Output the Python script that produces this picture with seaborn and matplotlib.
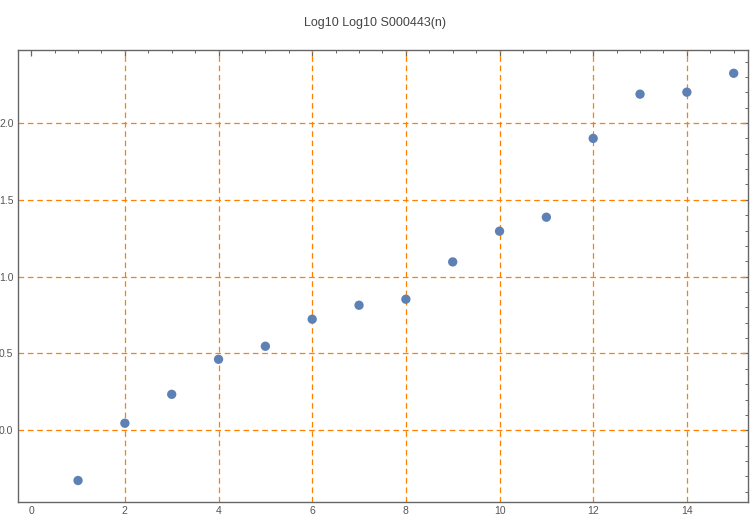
# Log10 Log10 S000443(n) scatter, Mathematica-like look

import numpy as np
import pandas as pd
import matplotlib
matplotlib.use('Agg')
import matplotlib.pyplot as plt
import seaborn as sns
from matplotlib.ticker import MultipleLocator

# data
n_values = [1, 2, 3, 4, 5, 6, 7, 8, 9, 10, 11, 12, 13, 14, 15]
loglog_values = [-0.327, 0.046, 0.234, 0.462, 0.547, 0.723, 0.814, 0.853,
                 1.096, 1.296, 1.387, 1.900, 2.188, 2.201, 2.324]
x_ticks = [0, 2, 4, 6, 8, 10, 12, 14]
y_ticks = [0.0, 0.5, 1.0, 1.5, 2.0]
title_text = 'Log10 Log10 S000443(n)'

df = pd.DataFrame({'n': n_values, 'value': loglog_values})

sns.set_style('white')
plt.rcParams['font.family'] = ['Liberation Sans', 'DejaVu Sans']

fig = plt.figure(figsize=(7.5, 5.2), dpi=100)
ax = fig.add_axes([0.0235, 0.034, 0.9735, 0.870])

# grid lines
for xv in x_ticks[1:]:
    ax.axvline(xv, color='#FF8000', lw=0.9, ls=(0, (4.5, 3)), zorder=1)
for yv in y_ticks:
    ax.axhline(yv, color='#FF8000', lw=0.9, ls=(0, (4.5, 3)), zorder=1)

sns.scatterplot(data=df, x='n', y='value', ax=ax, color='#5E81B5',
                s=45, edgecolor='none', zorder=3)

ax.set_xlim(-0.29, 15.30)
ax.set_ylim(-0.469, 2.476)
ax.set_xticks(x_ticks)
ax.set_yticks(y_ticks)
ax.set_yticklabels([f'{v:.1f}' for v in y_ticks])
ax.xaxis.set_minor_locator(MultipleLocator(0.5))
ax.yaxis.set_minor_locator(MultipleLocator(0.1))
ax.set_xlabel('')
ax.set_ylabel('')

ax.tick_params(which='both', direction='in', top=True, right=True,
               color='#666666', labelcolor='#555555', labelsize=7.5,
               labeltop=False, labelright=False)
ax.tick_params(which='major', length=4, width=0.9, pad=3)
ax.tick_params(which='minor', length=2.5, width=0.7)

for side in ['left', 'right', 'top', 'bottom']:
    ax.spines[side].set_visible(True)
    ax.spines[side].set_color('#666666')
    ax.spines[side].set_linewidth(1.0)

fig.text(0.5, 0.955, title_text, ha='center', va='center',
         fontsize=9, color='#444444')

fig.savefig('out.png', dpi=100)
